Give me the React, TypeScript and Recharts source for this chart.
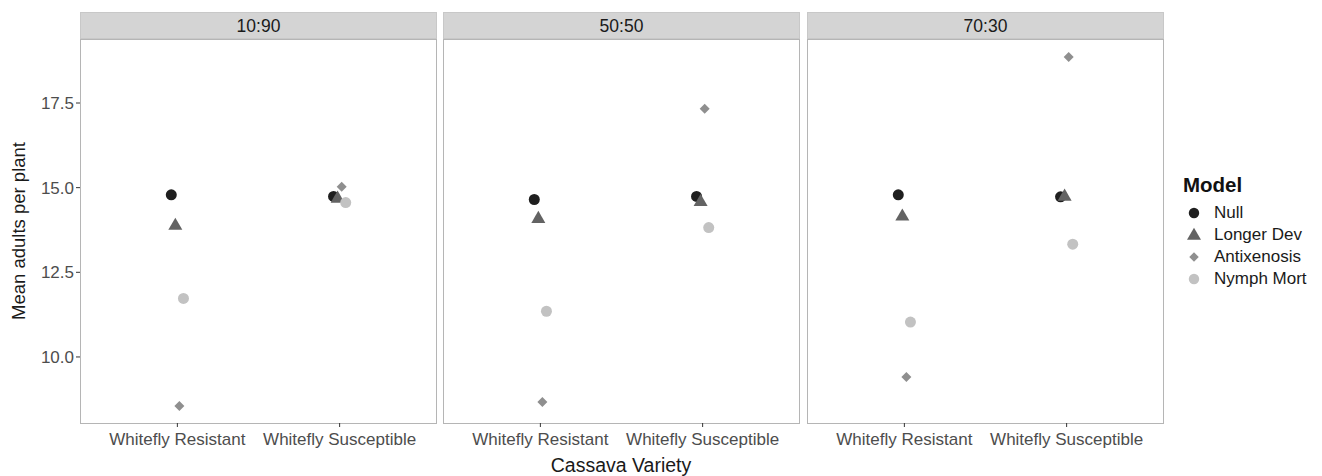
import React from 'react';
import { ScatterChart, Scatter, XAxis, YAxis } from 'recharts';

// facets and categories
const facets = ['10:90', '50:50', '70:30'];
const varieties = ['Whitefly Resistant', 'Whitefly Susceptible'];
const models = ['Null', 'Longer Dev', 'Antixenosis', 'Nymph Mort'];
const yTicks = [10, 12.5, 15, 17.5];

// mean adults per plant, [facet][variety]
const nullValues = [[14.79, 14.74], [14.65, 14.74], [14.79, 14.73]];
const longerDevValues = [[13.9, 14.7], [14.1, 14.6], [14.17, 14.76]];
const antixenosisValues = [[8.55, 15.03], [8.67, 17.33], [9.41, 18.86]];
const nymphMortValues = [[11.73, 14.56], [11.35, 13.82], [11.03, 13.33]];

const modelValues = [nullValues, longerDevValues, antixenosisValues, nymphMortValues];
const COLORS = ['#1f1f1f', '#636363', '#8f8f8f', '#c2c2c2'];
// position_dodge(width = 0.1) offsets
const DODGE = [-0.0375, -0.0125, 0.0125, 0.0375];

const FONT = '"Liberation Sans", Arial, sans-serif';
const PANEL_LEFT = [80, 443, 807];
const PANEL_W = 357;
const PLOT_TOP = 39;
const PLOT_BOTTOM = 423;

const Marker = ({ model, cx, cy, size = 1 }: { model: number; cx: number; cy: number; size?: number }) => {
  const fill = COLORS[model];
  if (model === 1) {
    const s = 14 * size;
    const h = s * 0.866;
    return <path d={`M${cx},${cy - h * 0.6} L${cx + s / 2},${cy + h * 0.4} L${cx - s / 2},${cy + h * 0.4} Z`} fill={fill} />;
  }
  if (model === 2) {
    const d = 5 * size;
    return <path d={`M${cx},${cy - d} L${cx + d},${cy} L${cx},${cy + d} L${cx - d},${cy} Z`} fill={fill} />;
  }
  return <circle cx={cx} cy={cy} r={5.5 * size} fill={fill} />;
};

const facetData = (f: number, m: number) =>
  varieties.map((v, i) => ({ x: i + 1 + DODGE[m], y: modelValues[m][f][i], variety: v }));

const Panel = ({ f }: { f: number }) => {
  const first = f === 0;
  const leftExtra = first ? 80 : 0;
  return (
    <div style={{ position: 'absolute', left: PANEL_LEFT[f] - leftExtra, top: 0 }}>
      <ScatterChart
        width={PANEL_W + leftExtra}
        height={476}
        margin={{ top: PLOT_TOP, right: 0, bottom: 476 - PLOT_BOTTOM - 30, left: first ? 30 : 0 }}
      >
        <XAxis
          type="number"
          dataKey="x"
          domain={[0.4, 2.6]}
          ticks={[1, 2]}
          interval={0}
          allowDataOverflow
          height={30}
          axisLine={false}
          tickLine={{ stroke: '#333' }}
          tickSize={4}
          tickMargin={6}
          tickFormatter={(v: number) => varieties[Math.round(v) - 1]}
          tick={{ fill: '#4d4d4d', fontSize: 17, fontFamily: FONT }}
        />
        <YAxis
          type="number"
          dataKey="y"
          domain={[8.05, 19.39]}
          ticks={yTicks}
          allowDataOverflow
          hide={!first}
          width={50}
          axisLine={false}
          tickLine={{ stroke: '#333' }}
          tickSize={4}
          tickMargin={2}
          tickFormatter={(v: number) => v.toFixed(1)}
          tick={{ fill: '#4d4d4d', fontSize: 17, fontFamily: FONT }}
        />
        {models.map((name, m) => (
          <Scatter
            key={name}
            name={name}
            data={facetData(f, m)}
            isAnimationActive={false}
            shape={(p: any) => <Marker model={m} cx={p.cx} cy={p.cy} />}
          />
        ))}
      </ScatterChart>
    </div>
  );
};

const App = () => {
  return (
    <div style={{ position: 'relative', width: 1322, height: 476, background: '#fff', fontFamily: FONT, overflow: 'hidden' }}>
      <style>{`body{margin:0}`}</style>
      {facets.map((label, f) => (
        <React.Fragment key={label}>
          <div
            style={{
              position: 'absolute', left: PANEL_LEFT[f], top: 12, width: PANEL_W, height: 27,
              boxSizing: 'border-box', background: '#d4d4d4', border: '1px solid #c8c8c8',
              textAlign: 'center', fontSize: 17.5, lineHeight: '26px', color: '#1a1a1a',
            }}
          >
            {label}
          </div>
          <div
            style={{
              position: 'absolute', left: PANEL_LEFT[f], top: PLOT_TOP, width: PANEL_W,
              height: PLOT_BOTTOM - PLOT_TOP + 1, boxSizing: 'border-box', border: '1px solid #b5b5b5',
            }}
          />
        </React.Fragment>
      ))}
      {facets.map((label, f) => (
        <Panel key={label} f={f} />
      ))}
      {/* axis titles */}
      <div
        style={{
          position: 'absolute', left: 19, top: 231, transform: 'translate(-50%, -50%) rotate(-90deg)',
          whiteSpace: 'nowrap', fontSize: 18.5, color: '#1a1a1a',
        }}
      >
        Mean adults per plant
      </div>
      <div
        style={{
          position: 'absolute', left: 621, top: 465, transform: 'translate(-50%, -50%)',
          whiteSpace: 'nowrap', fontSize: 19.5, color: '#1a1a1a',
        }}
      >
        Cassava Variety
      </div>
      {/* legend */}
      <div style={{ position: 'absolute', left: 1183, top: 173, fontSize: 20.5, fontWeight: 'bold', color: '#111' }}>Model</div>
      {models.map((name, m) => (
        <div key={name} style={{ position: 'absolute', left: 1186, top: 203 + m * 22, height: 20, display: 'flex', alignItems: 'center' }}>
          <svg width={18} height={20}>
            <Marker model={m} cx={8} cy={10} size={m === 1 ? 1 : 0.95} />
          </svg>
          <span style={{ marginLeft: 10, fontSize: 17, color: '#1a1a1a' }}>{name}</span>
        </div>
      ))}
    </div>
  );
};

export default App;
